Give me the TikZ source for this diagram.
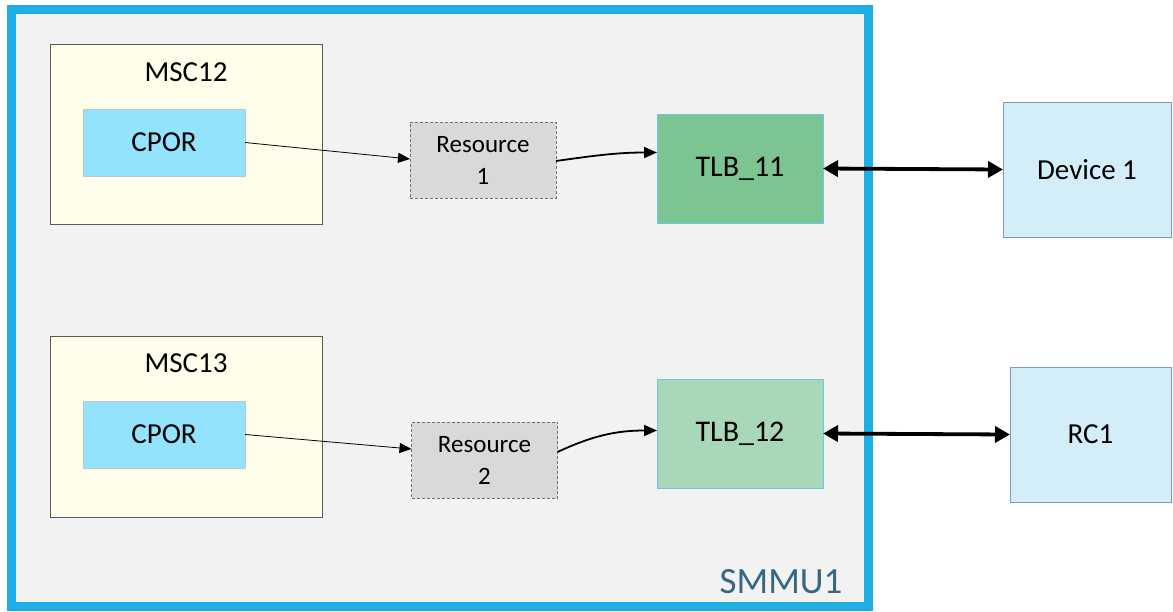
\documentclass[tikz,border=0pt]{standalone}
\usepackage{fontspec}
\setmainfont{Carlito}
\usetikzlibrary{arrows.meta}
\definecolor{smmublue}{HTML}{1DAEE3}
\definecolor{smmufill}{HTML}{F2F2F2}
\definecolor{smmutext}{HTML}{3A6583}
\definecolor{mscfill}{HTML}{FEFEEB}
\definecolor{mscdraw}{HTML}{5A5A5A}
\definecolor{cporfill}{HTML}{93E3FD}
\definecolor{cpordraw}{HTML}{C0C8CC}
\definecolor{resfill}{HTML}{D9D9D9}
\definecolor{resdraw}{HTML}{707070}
\definecolor{tlbdark}{HTML}{7DC493}
\definecolor{tlblight}{HTML}{A8D8B7}
\definecolor{tlbdraw}{HTML}{6CC8E8}
\definecolor{devfill}{HTML}{D4EEF9}
\definecolor{devdraw}{HTML}{7A9CB8}
\tikzset{
  x=1pt, y=-1pt,
  box/.style={rectangle, inner sep=0pt, outer sep=0pt, align=center,
    font=\fontsize{29}{32}\selectfont},
  mscbox/.style={box, fill=mscfill, draw=mscdraw, line width=1pt},
  cporbox/.style={box, fill=cporfill, draw=cpordraw, line width=0.8pt,
    minimum width=162pt, minimum height=67pt},
  resbox/.style={box, fill=resfill, draw=resdraw, line width=1pt,
    dash pattern=on 3pt off 2pt, font=\fontsize{25}{32}\selectfont,
    minimum width=146pt, minimum height=76pt},
  tlbbox/.style={box, draw=tlbdraw, line width=1pt,
    minimum width=166pt, minimum height=109pt, font=\fontsize{30}{32}\selectfont},
  devbox/.style={box, fill=devfill, draw=devdraw, line width=1pt, minimum height=135pt},
  thinarrow/.style={draw=black, line width=0.8pt, -{Triangle[length=12pt,width=10pt]}},
  curvearrow/.style={draw=black, line width=1.8pt, -{Triangle[length=13pt,width=11pt]}},
  linkarrow/.style={draw=black, line width=3.8pt,
    {Triangle[length=15pt,width=16pt]}-{Triangle[length=15pt,width=16pt]}},
}
\begin{document}
\begin{tikzpicture}
\useasboundingbox (0,0) rectangle (1173,611);
\fill[white] (0,0) rectangle (1173,611);

% SMMU container
\node[rectangle, draw=smmublue, fill=smmufill, line width=9pt, inner sep=0pt,
  minimum width=857pt, minimum height=597pt] (smmu) at (439.5,307.5) {};
\node[font=\fontsize{37}{40}\selectfont, text=smmutext, anchor=base east]
  (smmulabel) at (846,593) {SMMU1};

% Upper path
\node[mscbox, minimum width=272pt, minimum height=180pt] (msc12) at (186,134) {};
\node[box, anchor=base] (msc12label) at (186,81) {MSC12};
\node[cporbox] (cpor1) at (164,142.5) {CPOR};
\node[resbox] (res1) at (483,160) {Resource\\1};
\node[tlbbox, fill=tlbdark] (tlb11) at (740,168.5) {TLB\_11};
\node[devbox, minimum width=168pt] (dev1) at (1087,169.5) {Device 1};

% Lower path
\node[mscbox, minimum width=272pt, minimum height=181pt] (msc13) at (186,426.5) {};
\node[box, anchor=base] (msc13label) at (186,372) {MSC13};
\node[cporbox] (cpor2) at (164,434.5) {CPOR};
\node[resbox] (res2) at (484.5,460) {Resource\\2};
\node[tlbbox, fill=tlblight] (tlb12) at (740,433.5) {TLB\_12};
\node[devbox, minimum width=161pt] (rc1) at (1090.5,434.5) {RC1};

% Connectors
\draw[thinarrow] (cpor1.east) -- ([yshift=1pt]res1.west);
\draw[curvearrow] ([yshift=-1pt]res1.east) to[out=8, in=180] ([yshift=16pt]tlb11.west);
\draw[linkarrow] (tlb11.east) -- (dev1.west);

\draw[thinarrow] (cpor2.east) -- ([yshift=11pt]res2.west);
\draw[curvearrow] ([yshift=8pt]res2.east) to[out=25, in=180] ([yshift=3pt]tlb12.west);
\draw[linkarrow] (tlb12.east) -- (rc1.west);
\end{tikzpicture}
\end{document}
